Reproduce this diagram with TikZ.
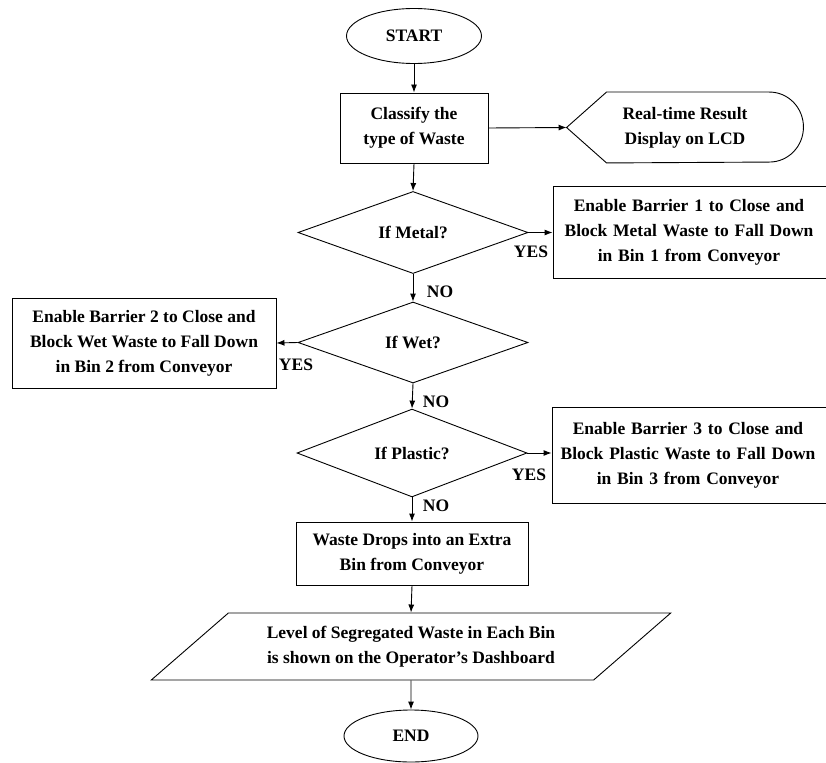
\documentclass[tikz,border=0pt]{standalone}
\usepackage{fontspec}
\setmainfont{Liberation Serif}
\usetikzlibrary{shapes.geometric,arrows.meta}

\begin{document}
\begin{tikzpicture}[x=1pt, y=-1pt, >={Latex[length=8pt,width=6pt]}, line width=0.9pt,
    every node/.append style={font=\fontsize{17.5}{25}\selectfont\bfseries}]
      \tikzstyle{enode} = [draw, ellipse, inner sep = 0pt]
      \tikzstyle{pnode} = [draw, rectangle, inner sep = 2pt, align=center]
      \tikzstyle{dnode} = [draw, diamond, inner sep = 0pt, minimum width=230pt, minimum height=81pt]
      \tikzstyle{lnode} = [inner sep = 0pt]

      \useasboundingbox (0,0) rectangle (826,762);

      %%%%%%%%%%%%%%%%%%%%%%%%%%%%%%
      %% The main column
      %%%%%%%%%%%%%%%%%%%%%%%%%%%%%%
      \node[enode, minimum width=135pt, minimum height=55pt] (start) at (414,36) {START};
      \node[pnode, minimum width=148pt, minimum height=70pt] (classify) at (414,128) {Classify the\\type of Waste};

      \node[dnode] (metal) at (413,232.5) {If Metal?};
      \node[dnode] (wet) at (413,342.5) {If Wet?};
      \node[dnode] (plastic) at (412,453) {If Plastic?};

      \node[pnode, minimum width=232pt, minimum height=63pt] (extra) at (412,553.5) {Waste Drops into an Extra\\Bin from Conveyor};
      \node[draw, trapezium, trapezium left angle=34, trapezium right angle=146, trapezium stretches=true,
        minimum width=522pt, minimum height=67pt, align=center, inner sep=0pt] (level) at (411,646.5)
        {Level of Segregated Waste in Each Bin\\is shown on the Operator's Dashboard};
      \node[enode, minimum width=134pt, minimum height=52pt] (end) at (411,736) {END};

      %%%%%%%%%%%%%%%%%%%%%%%%%%%%%%
      %% The side boxes
      %%%%%%%%%%%%%%%%%%%%%%%%%%%%%%
      \node[align=center, minimum width=236pt, minimum height=70pt, inner sep=0pt] (disp) at (685,127.5)
        {Real-time Result\\Display on LCD};
      \draw (disp.west) -- ([xshift=40pt]disp.north west) -- ([xshift=-34pt]disp.north east)
        arc[start angle=90, end angle=-90, x radius=34pt, y radius=35pt]
        -- ([xshift=40pt]disp.south west) -- cycle;

      \node[pnode, minimum width=280pt, minimum height=92pt, text width=270pt] (metalbin) at (693,232.5)
        {\hspace*{-8pt}Enable Barrier 1 to Close and\\\hspace*{-8pt}Block Metal Waste to Fall Down\\\hspace*{-8pt}in Bin 1 from Conveyor};
      \node[pnode, minimum width=264pt, minimum height=90pt] (wetbin) at (144,343)
        {Enable Barrier 2 to Close and\\Block Wet Waste to Fall Down\\in Bin 2 from Conveyor};
      \node[pnode, minimum width=280pt, minimum height=96pt, text width=270pt] (plasticbin) at (692,455)
        {\hspace*{-8pt}Enable Barrier 3 to Close and\\\hspace*{-8pt}Block Plastic Waste to Fall Down\\\hspace*{-8pt}in Bin 3 from Conveyor};

      %%%%%%%%%%%%%%%%%%%%%%%%%%%%%%
      %% YES / NO labels
      %%%%%%%%%%%%%%%%%%%%%%%%%%%%%%
      \node[lnode] (yes1) at (531,252) {YES};
      \node[lnode] (no1) at (440,292) {NO};
      \node[lnode] (yes2) at (296,365) {YES};
      \node[lnode] (no2) at (436,402) {NO};
      \node[lnode] (yes3) at (529,475) {YES};
      \node[lnode] (no3) at (436,506) {NO};

      % edges main column
      \draw[->] (start.south) -- (classify.north);
      \draw[->] (classify.south) -- (metal.north);
      \draw[->] (metal.south) -- (wet.north);
      \draw[->] (wet.south) -- (plastic.north);
      \draw[->] (plastic.south) -- (extra.north);
      \draw[->] (extra.south) -- (level.north);
      \draw[->] (level.south) -- (end.north);

      % edges to the side
      \draw[->] (classify.east) -- (disp.west);
      \draw[->] (metal.east) -- (metalbin.west);
      \draw[->] (wet.west) -- (wetbin.east);
      \draw[->] (plastic.east) -- (plasticbin.west |- plastic.east);

    \end{tikzpicture}
\end{document}
